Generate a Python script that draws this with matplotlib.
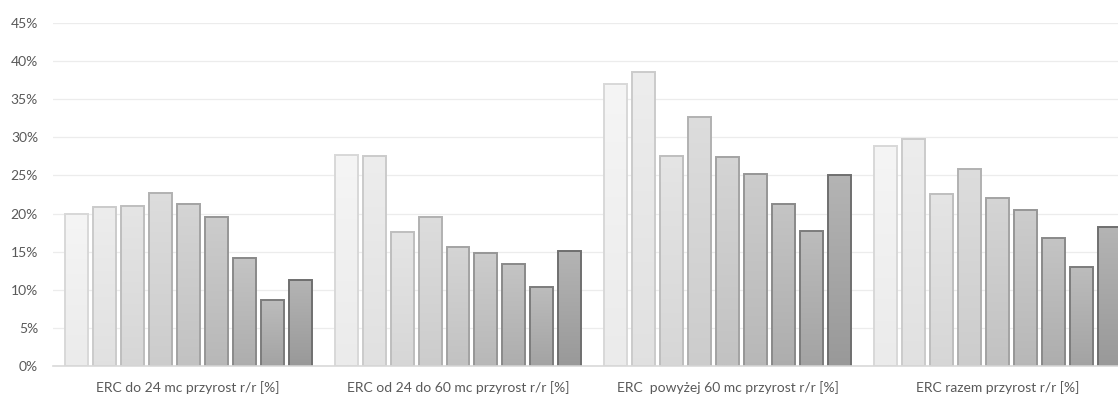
import matplotlib
matplotlib.use('Agg')
import matplotlib.pyplot as plt
import numpy as np
from matplotlib.colors import to_rgb
from matplotlib.ticker import PercentFormatter

categories = ['ERC do 24 mc przyrost r/r [%]',
              'ERC od 24 do 60 mc przyrost r/r [%]',
              'ERC  powyżej 60 mc przyrost r/r [%]',
              'ERC razem przyrost r/r [%]']

# one row per series (9 series), one column per category
values = [
    [20.0, 27.7, 37.0, 28.9],
    [20.9, 27.5, 38.6, 29.8],
    [21.0, 17.6, 27.6, 22.6],
    [22.7, 19.6, 32.7, 25.8],
    [21.3, 15.6, 27.4, 22.0],
    [19.6, 14.8, 25.2, 20.5],
    [14.2, 13.4, 21.2, 16.8],
    [8.6, 10.3, 17.7, 13.0],
    [11.2, 15.1, 25.1, 18.2],
]

yticks = [0, 5, 10, 15, 20, 25, 30, 35, 40, 45]

n_series = len(values)
pitch = 28 / 270
width = 23 / 270


def mix(c1, c2, t):
    a = np.array(to_rgb(c1))
    b = np.array(to_rgb(c2))
    return a + (b - a) * t


fig = plt.figure(figsize=(11.18, 3.95), dpi=100)
ax = fig.add_axes([53.3 / 1118, 29.3 / 395, 1079.2 / 1118, 342.4 / 395])

x = np.arange(len(categories))
for i, row in enumerate(values):
    t = i / (n_series - 1)
    top = mix('#f5f5f5', '#b4b4b4', t)
    bottom = mix('#ebebeb', '#999999', t)
    edge = mix('#d8d8d8', '#6f6f6f', t)
    offs = (i - (n_series - 1) / 2) * pitch
    for xc, v in zip(x + offs, row):
        grad = np.linspace(0, 1, 64)[:, None]
        img = top[None, None, :] * (1 - grad[..., None]) + bottom[None, None, :] * grad[..., None]
        ax.imshow(img, extent=(xc - width / 2, xc + width / 2, 0, v),
                  aspect='auto', origin='upper', zorder=2, interpolation='bilinear')
    ax.bar(x + offs, row, width=width, facecolor='none', edgecolor=edge,
           linewidth=1.4, zorder=3)

ax.set_xlim(-0.5, len(categories) - 0.5)
ax.set_ylim(0, 45)
ax.set_yticks(yticks)
ax.yaxis.set_major_formatter(PercentFormatter(decimals=0))
ax.set_xticks(x)
ax.set_xticklabels(categories)

font = 'Lato'
for lab in ax.get_xticklabels() + ax.get_yticklabels():
    lab.set_fontfamily(font)
    lab.set_fontsize(10)
    lab.set_color('#595959')

ax.tick_params(axis='both', length=0)
ax.tick_params(axis='y', pad=11)
ax.tick_params(axis='x', pad=11)
ax.grid(axis='y', color='#ececec', linewidth=0.9, zorder=0)
ax.set_axisbelow(True)
for s in ['top', 'right', 'left']:
    ax.spines[s].set_visible(False)
ax.spines['bottom'].set_color('#d9d9d9')
ax.spines['bottom'].set_linewidth(1.2)
ax.spines['bottom'].set_zorder(4)

fig.savefig('out.png', dpi=100)
